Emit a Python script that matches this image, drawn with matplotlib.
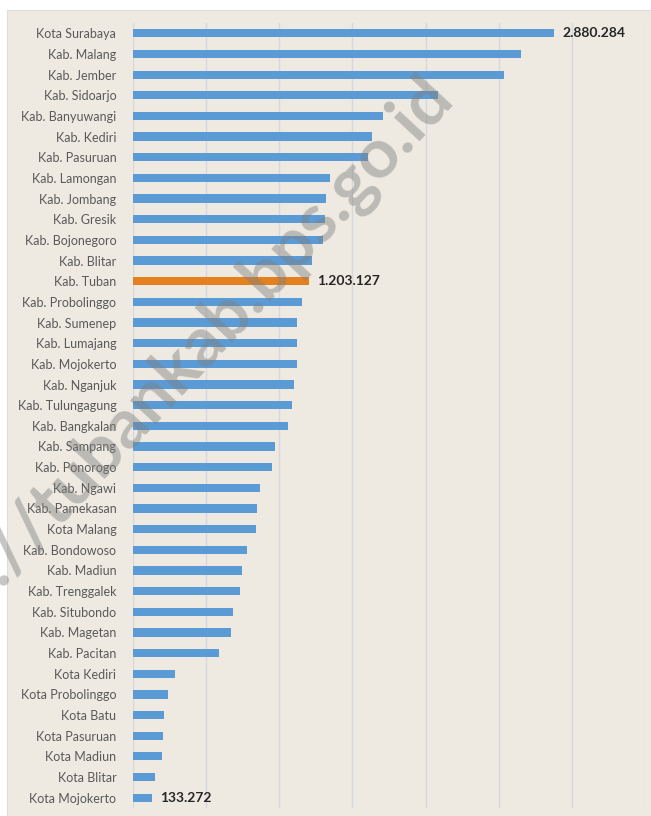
import matplotlib
matplotlib.use("Agg")
import matplotlib.pyplot as plt
from matplotlib.patches import Rectangle

BLUE = "#5B9BD5"
ORANGE = "#E5801F"
BG = "#EEEAE2"
GRID = "#D6D8DE"
LABEL = "#595959"

regions = [
    "Kota Surabaya", "Kab. Malang", "Kab. Jember", "Kab. Sidoarjo", "Kab. Banyuwangi",
    "Kab. Kediri", "Kab. Pasuruan", "Kab. Lamongan", "Kab. Jombang", "Kab. Gresik",
    "Kab. Bojonegoro", "Kab. Blitar", "Kab. Tuban", "Kab. Probolinggo", "Kab. Sumenep",
    "Kab. Lumajang", "Kab. Mojokerto", "Kab. Nganjuk", "Kab. Tulungagung", "Kab. Bangkalan",
    "Kab. Sampang", "Kab. Ponorogo", "Kab. Ngawi", "Kab. Pamekasan", "Kota Malang",
    "Kab. Bondowoso", "Kab. Madiun", "Kab. Trenggalek", "Kab. Situbondo", "Kab. Magetan",
    "Kab. Pacitan", "Kota Kediri", "Kota Probolinggo", "Kota Batu", "Kota Pasuruan",
    "Kota Madiun", "Kota Blitar", "Kota Mojokerto",
]
population = [
    2880284, 2654000, 2537000, 2083000, 1708000,
    1635000, 1605000, 1344000, 1318000, 1311000,
    1302000, 1224000, 1203127, 1153000, 1124000,
    1119000, 1119000, 1104000, 1090000, 1060000,
    970000, 949000, 870000, 850000, 844000,
    776000, 744000, 731000, 686000, 671000,
    586000, 287000, 240000, 213000, 208000,
    195000, 149000, 133272,
]
highlight = "Kab. Tuban"
labelled = ["Kota Surabaya", "Kab. Tuban", "Kota Mojokerto"]


def fmt(v):
    return f"{v:,}".replace(",", ".")


plt.rcParams["font.family"] = ["Lato", "DejaVu Sans"]
fig = plt.figure(figsize=(6.51, 8.16), dpi=100)
fig.patch.set_facecolor("white")
# chart area background
fig.patches.append(Rectangle((7 / 651, 0), 1 - 7 / 651, 1 - 10 / 816,
                             transform=fig.transFigure, facecolor=BG,
                             edgecolor="#DDDDDD", lw=0.8, zorder=-10))

ax = fig.add_axes([133 / 651, 8 / 816, 512 / 651, 785 / 816])
ax.set_facecolor("none")
ys = list(range(len(regions)))
cols = [ORANGE if r == highlight else BLUE for r in regions]
ax.barh(ys, population, height=0.4, color=cols, zorder=3)
ax.set_ylim(len(regions) - 0.5, -0.5)
ax.set_xlim(0, 3500000)
ax.set_xticks(range(0, 3500001, 500000))
ax.set_xticklabels([])
ax.tick_params(axis="x", length=0)
ax.tick_params(axis="y", length=0, pad=12)
ax.set_yticks(ys)
ax.set_yticklabels(regions, fontsize=9, color=LABEL)
ax.grid(axis="x", color=GRID, lw=1, zorder=0)
for s in ax.spines.values():
    s.set_visible(False)

for y, (r, v) in enumerate(zip(regions, population)):
    if r in labelled:
        ax.annotate(fmt(v), (v, y), xytext=(5.5, 0), textcoords="offset points",
                    ha="left", va="center", fontsize=10, fontweight="bold",
                    color="#262626", zorder=4)

# watermark, partly running off the left edge as in the source
fig.text(160 / 651, 1 - 388 / 816, "https://tubankab.bps.go.id", rotation=47,
         ha="center", va="center", fontsize=50, fontweight="bold",
         color="#7F7F7F", alpha=0.45, zorder=10)

fig.savefig("out.png", dpi=100)
